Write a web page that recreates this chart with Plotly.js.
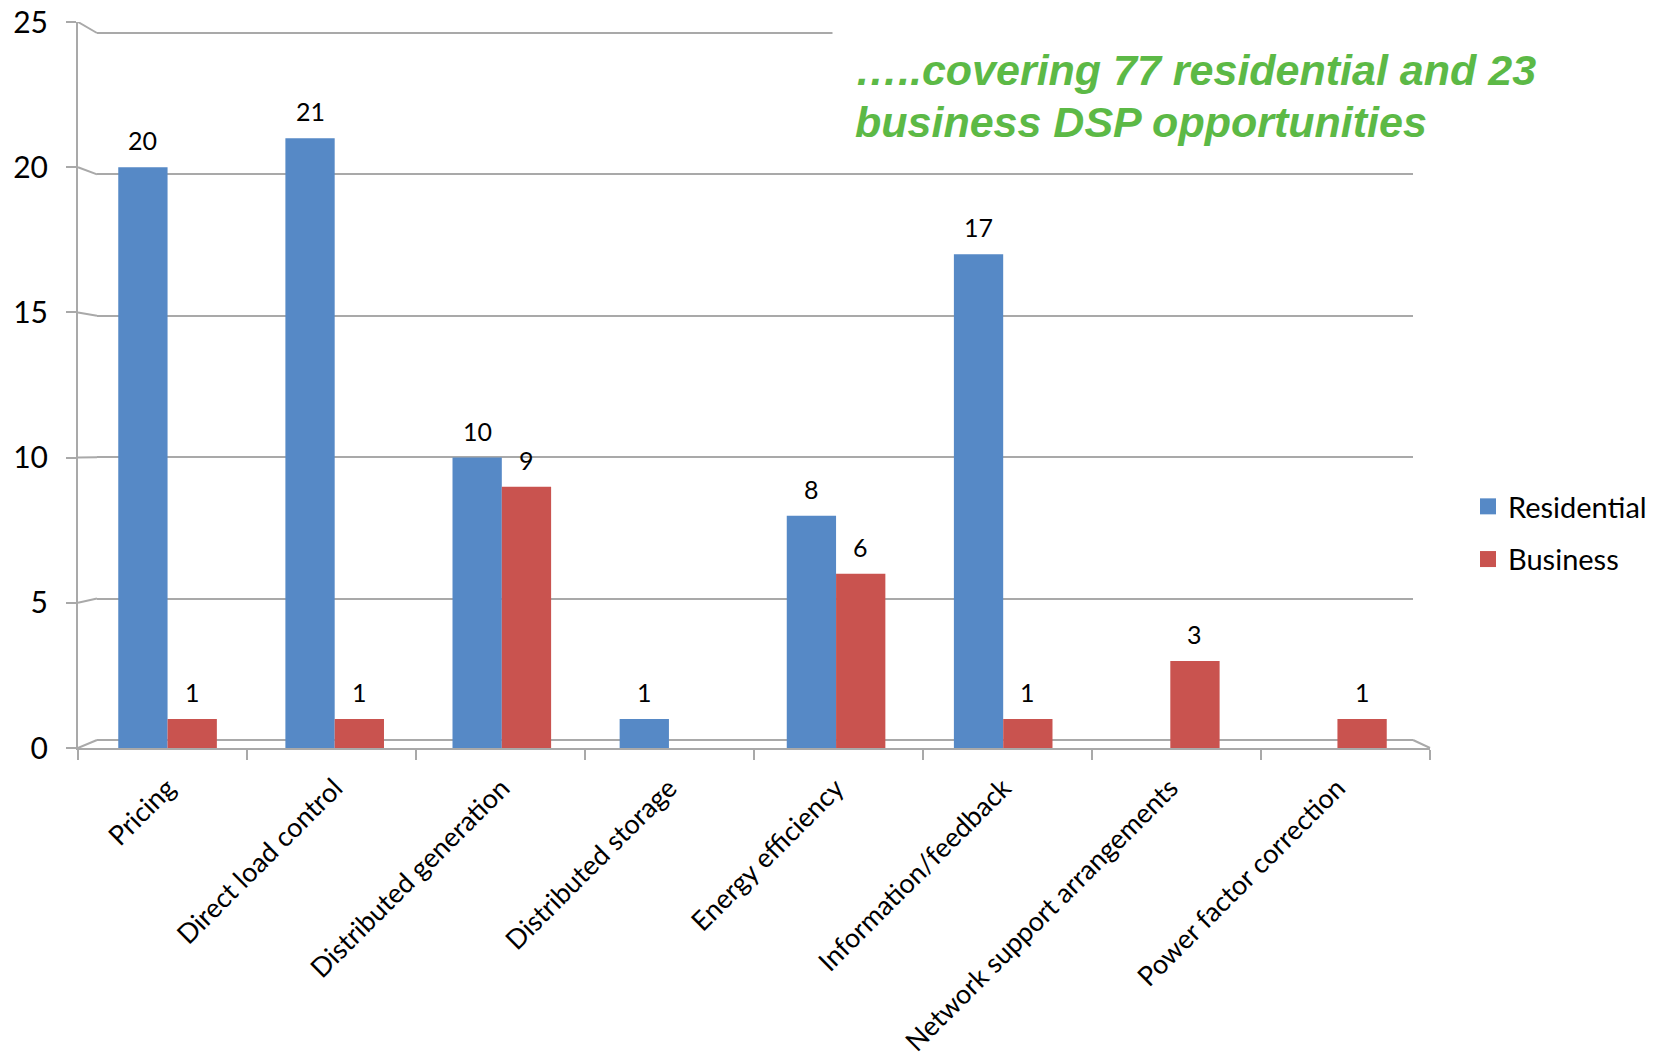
<!DOCTYPE html>
<html>
<head>
<meta charset="utf-8">
<script src="https://cdn.plot.ly/plotly-3.0.1.min.js"></script>
<style>html,body{margin:0;padding:0;background:#fff;}</style>
</head>
<body>
<div id="chart" style="width:1657px;height:1058px;"></div>
<script>
// ---- data ----
const categories = ['Pricing','Direct load control','Distributed generation','Distributed storage','Energy efficiency','Information/feedback','Network support arrangements','Power factor correction'];
const residential = [20, 21, 10, 1, 8, 17, 0, 0];
const business = [1, 1, 9, 0, 6, 1, 3, 1];
const yTicks = [0, 5, 10, 15, 20, 25];
const seriesNames = ['Residential', 'Business'];
const titleLines = ['<b><i>\u2026..covering 77 residential and 23</i></b>', '<b><i>business DSP opportunities</i></b>'];

// ---- geometry (pixels) ----
const W = 1657, H = 1058;
const PL = 78, PR = 1430, PT = 22, PB = 748;
const PW = PR - PL, PH = PB - PT;
const fx = px => (px - PL) / PW;
const fy = py => (PB - py) / PH;
const YMAX = 25;
const barL = 84, barR = 1421;
const backL = 97, backR = 1413, back0 = 740, backTop = 33;
const bargap = 0.41;
const gridCol = '#a9a9a9';
const colors = ['#5689c6', '#c9534f'];
const font = 'Lato, "Noto Sans", sans-serif';

const traces = [
  {type:'scatter', x:[], y:[], xaxis:'x', yaxis:'y', showlegend:false, hoverinfo:'skip'},
  {type:'bar', name:seriesNames[0], x:categories, y:residential, xaxis:'x2', yaxis:'y2',
   marker:{color:colors[0]}, showlegend:false, hoverinfo:'x+y+name'},
  {type:'bar', name:seriesNames[1], x:categories, y:business, xaxis:'x2', yaxis:'y2',
   marker:{color:colors[1]}, showlegend:false, hoverinfo:'x+y+name'},
  {type:'scatter', x:[], y:[], xaxis:'x3', yaxis:'y2', showlegend:false, hoverinfo:'skip'},
  // legend entries (square swatches)
  {type:'scatter', mode:'markers', name:seriesNames[0], x:[null], y:[null], xaxis:'x2', yaxis:'y2',
   marker:{symbol:'square', size:16, color:colors[0]}, legendgroup:'r', hoverinfo:'skip'},
  {type:'scatter', mode:'markers', name:seriesNames[1], x:[null], y:[null], xaxis:'x2', yaxis:'y2',
   marker:{symbol:'square', size:16, color:colors[1]}, legendgroup:'b', hoverinfo:'skip'}
];

// data labels
const catW = (barR - barL) / categories.length;
const barW = catW * (1 - bargap) / 2;
const annotations = [];
[residential, business].forEach((vals, s) => {
  vals.forEach((v, i) => {
    if (v > 0) {
      annotations.push({xref:'x2', yref:'y2', x:categories[i], y:v, text:String(v),
        showarrow:false, xshift:(s === 0 ? -1 : 1) * barW / 2, yshift:27,
        xanchor:'center', yanchor:'middle', font:{family:font, size:25, color:'#000'}});
    }
  });
});
const titleFont = {family:'"Liberation Sans", Arial, sans-serif', size:43, color:'#5cb946'};
annotations.push({xref:'paper', yref:'paper', x:fx(832), y:fy(70), xanchor:'left', yanchor:'middle',
  text:titleLines[0], align:'left', showarrow:false, bgcolor:'#ffffff', borderpad:22, font:titleFont});
annotations.push({xref:'paper', yref:'paper', x:fx(832), y:fy(122), xanchor:'left', yanchor:'middle',
  text:titleLines[1], align:'left', showarrow:false, bgcolor:'rgba(0,0,0,0)', borderpad:22, font:titleFont});

// decorative 3D connectors (front axis -> back wall)
const unitPx = PH / YMAX;
const backUnit = (back0 - backTop) / YMAX;
const backPx = v => back0 - v * backUnit;
const toY2 = py => (PB - py) / unitPx;
const shapes = yTicks.map(v => ({type:'line', xref:'paper', yref:'y2',
  x0:fx(PL), y0:v, x1:fx(backL), y1:toY2(backPx(v)), line:{color:gridCol, width:2}, layer:'below'}));
shapes.push({type:'line', xref:'paper', yref:'y2', x0:fx(backR), y0:toY2(backPx(0)), x1:fx(PR), y1:0,
  line:{color:gridCol, width:2}, layer:'below'});

const eps = 0.05;
const layout = {
  width:W, height:H,
  margin:{l:PL, r:W - PR, t:PT, b:H - PB, pad:0, autoexpand:false},
  paper_bgcolor:'#ffffff', plot_bgcolor:'rgba(0,0,0,0)',
  font:{family:font, color:'#000'},
  barmode:'group', bargap:bargap, bargroupgap:0,
  showlegend:true,
  legend:{x:fx(1468), xanchor:'left', y:fy(533), yanchor:'middle', font:{size:29, family:font},
    tracegroupgap:12, traceorder:'grouped', bgcolor:'rgba(0,0,0,0)'},
  xaxis:{domain:[fx(backL), fx(backR)], range:[0,1], visible:false, fixedrange:true},
  yaxis:{domain:[fy(back0 + eps * backUnit), fy(backTop - eps * backUnit)], range:[-eps, YMAX + eps],
    anchor:'x', tickvals:yTicks,
    showgrid:true, gridcolor:gridCol, gridwidth:2, zeroline:false, showticklabels:false,
    ticks:'', showline:false, fixedrange:true},
  xaxis2:{domain:[fx(barL), fx(barR)], type:'category', categoryarray:categories, categoryorder:'array',
    anchor:'y2', showline:false, ticks:'',
    showgrid:false, zeroline:false, tickangle:-45, tickfont:{size:27, family:font},
    ticklabelstandoff:18, automargin:false, fixedrange:true},
  yaxis2:{domain:[0,1], range:[0, YMAX], anchor:'x3', tickvals:yTicks, ticks:'outside', ticklen:10,
    tickcolor:gridCol, tickwidth:2, showline:true, linecolor:gridCol, linewidth:2, showgrid:false,
    zeroline:false, tickfont:{size:30, family:font}, ticklabelstandoff:12, automargin:false, fixedrange:true},
  xaxis3:{domain:[0,1], range:[0, categories.length], anchor:'y2',
    tickvals:categories.map((c, i) => i).concat([categories.length]),
    ticks:'outside', ticklen:10, tickcolor:gridCol, tickwidth:2, showline:true, linecolor:gridCol,
    linewidth:2, showticklabels:false, showgrid:false, zeroline:false, fixedrange:true},
  annotations:annotations,
  shapes:shapes
};

Plotly.newPlot('chart', traces, layout, {displayModeBar:false, staticPlot:true});
</script>
</body>
</html>
